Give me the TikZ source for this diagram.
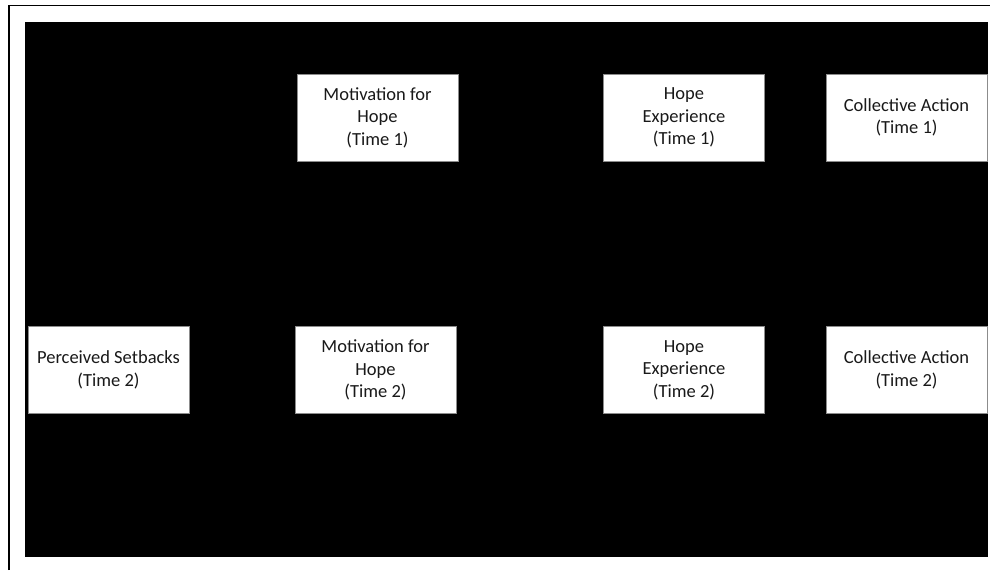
\documentclass[tikz,border=0pt]{standalone}
\usepackage{fontspec}
\setmainfont{Carlito}
\begin{document}
\begin{tikzpicture}[x=1pt,y=-1pt]
\tikzset{
  varbox/.style={draw=black!45, line width=0.8pt, fill=white, rectangle, inner sep=0pt,
    minimum width=161pt, minimum height=87pt, align=center,
    font=\fontsize{18.5}{22.5}\selectfont, text=black!90},
}
\useasboundingbox (0,0) rectangle (990,570);
\fill[white] (0,0) rectangle (990,570);
\draw[line width=1.8pt] (9,570) -- (9,5.5) -- (990,5.5);
\fill[black] (25,22) rectangle (988,557);
\node[varbox] (mot1) at (377.5,117.5) {Motivation for\\Hope\\(Time 1)};
\node[varbox] (hop1) at (684,117.5) {Hope\\Experience\\(Time 1)};
\node[varbox] (col1) at (906.5,117.5) {Collective Action\\(Time 1)};
\node[varbox] (set2) at (108.5,370) {Perceived Setbacks\\(Time 2)};
\node[varbox] (mot2) at (375.5,370) {Motivation for\\Hope\\(Time 2)};
\node[varbox] (hop2) at (684,370) {Hope\\Experience\\(Time 2)};
\node[varbox] (col2) at (906.5,370) {Collective Action\\(Time 2)};
\end{tikzpicture}
\end{document}
